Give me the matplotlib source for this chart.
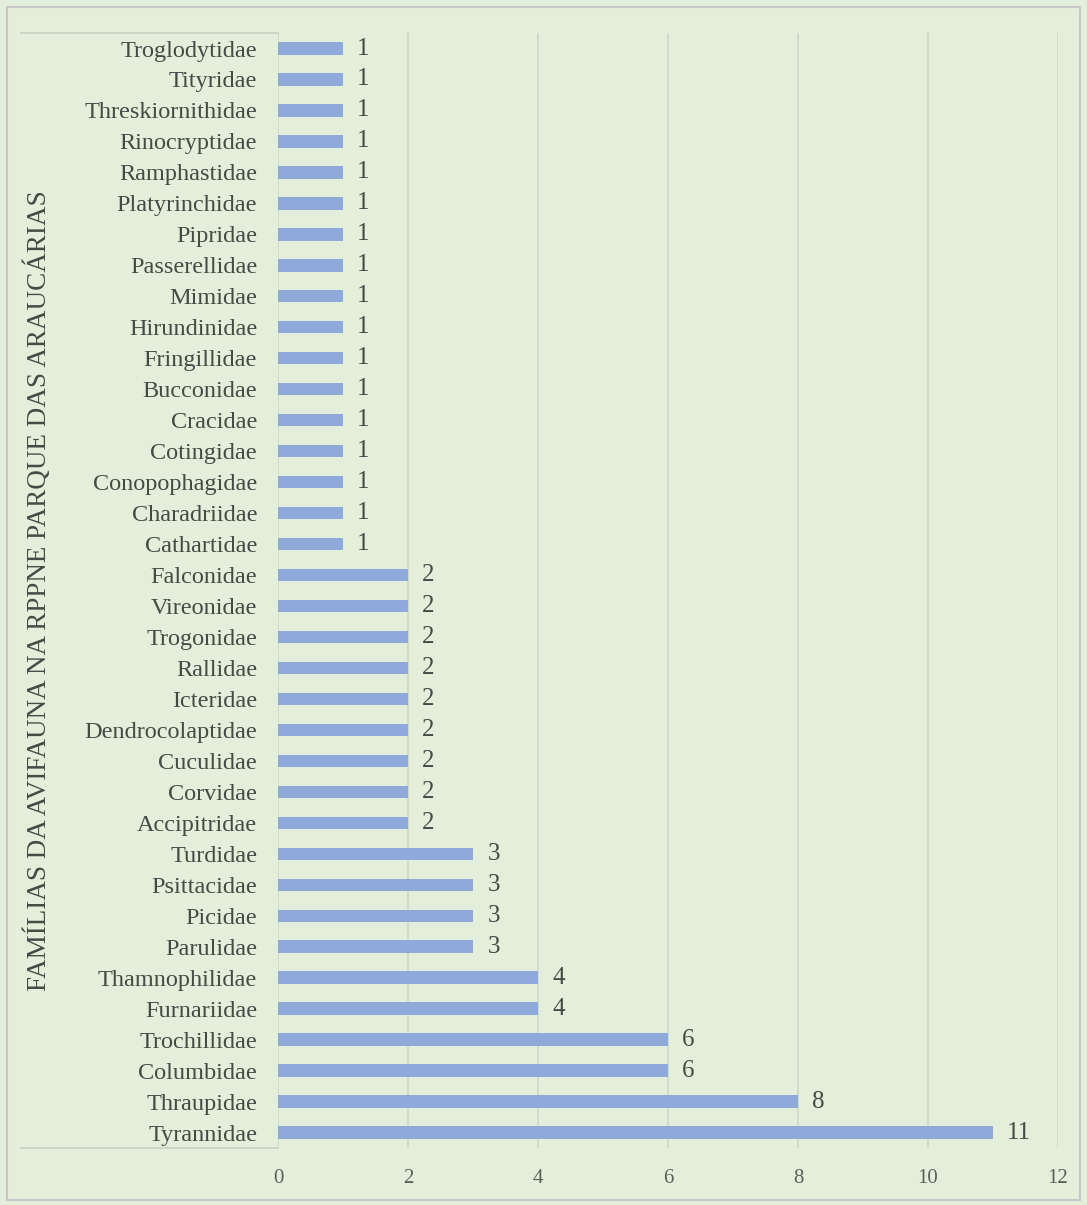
import matplotlib.pyplot as plt
from matplotlib.patches import Rectangle

plt.rcParams['font.family'] = ['Liberation Serif', 'DejaVu Serif']

# bottom -> top
familias = ["Tyrannidae", "Thraupidae", "Columbidae", "Trochillidae", "Furnariidae",
            "Thamnophilidae", "Parulidae", "Picidae", "Psittacidae", "Turdidae",
            "Accipitridae", "Corvidae", "Cuculidae", "Dendrocolaptidae", "Icteridae",
            "Rallidae", "Trogonidae", "Vireonidae", "Falconidae", "Cathartidae",
            "Charadriidae", "Conopophagidae", "Cotingidae", "Cracidae", "Bucconidae",
            "Fringillidae", "Hirundinidae", "Mimidae", "Passerellidae", "Pipridae",
            "Platyrinchidae", "Ramphastidae", "Rinocryptidae", "Threskiornithidae",
            "Tityridae", "Troglodytidae"]
especies = [11, 8, 6, 6, 4, 4, 3, 3, 3, 3,
            2, 2, 2, 2, 2, 2, 2, 2, 2, 1,
            1, 1, 1, 1, 1, 1, 1, 1, 1, 1,
            1, 1, 1, 1, 1, 1]
xticks = [0, 2, 4, 6, 8, 10, 12]

bg = "#e3efda"
txt = "#454a45"
fig = plt.figure(figsize=(10.87, 12.05), dpi=100, facecolor=bg)
fig.patches.append(Rectangle((0.006, 0.004), 0.988, 0.99, transform=fig.transFigure,
                             fill=False, edgecolor="#c8c8c8", linewidth=1.5))
ax = fig.add_axes([0.2557, 0.0473, 0.7176, 0.9253])
ax.set_facecolor(bg)

pos = list(range(len(familias)))
ax.barh(pos, especies, height=0.4, color="#8eaadb", zorder=3)
for p, v in zip(pos, especies):
    ax.text(v + 0.22, p, str(v), va="center", ha="left", fontsize=18, color=txt)

ax.set_xlim(0, 12)
ax.set_ylim(-0.5, len(familias) - 0.5)
ax.set_xticks(xticks)
ax.set_xticklabels([str(t) for t in xticks], fontsize=15, color="#5a5f5a")
ax.set_yticks(pos)
ax.set_yticklabels(familias, fontsize=17.5, color=txt)
ax.tick_params(axis="both", length=0)
ax.tick_params(axis="x", pad=15)
ax.tick_params(axis="y", pad=15)
ax.grid(axis="x", color="#cfd8c6", linewidth=1.2, zorder=0)
for s in ax.spines.values():
    s.set_visible(False)

# faint category-axis lines left of the plot area
for yy in (0, 1):
    ax.plot([-0.33, 0], [yy, yy], transform=ax.transAxes, clip_on=False,
            color="#c9d2c2", linewidth=1.2)

fig.text(0.035, 0.51, "FAMÍLIAS DA AVIFAUNA NA RPPNE PARQUE DAS ARAUCÁRIAS",
         rotation=90, va="center", ha="center", fontsize=19.5, color=txt)

fig.savefig("out.png", dpi=100, facecolor=bg)
